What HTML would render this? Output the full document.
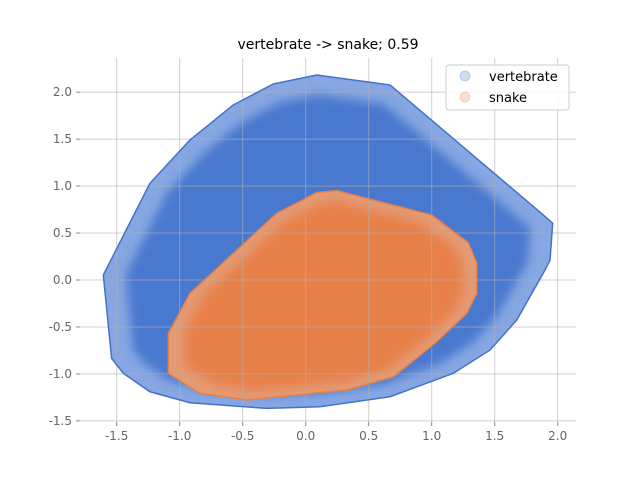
<!DOCTYPE html>
<html><head><meta charset="utf-8"><style>
body{margin:0;background:#fff;font-family:"Liberation Sans",sans-serif}
svg text{font-family:"DejaVu Sans","Liberation Sans",sans-serif}
</style></head><body>
<svg id="c" width="640" height="480">
<defs><filter id="bl" x="-20%" y="-20%" width="140%" height="140%"><feGaussianBlur stdDeviation="5"/></filter></defs>
</svg>
<script>
const xTicks=[-1.5,-1.0,-0.5,0.0,0.5,1.0,1.5,2.0];
const yTicks=[-1.5,-1.0,-0.5,0.0,0.5,1.0,1.5,2.0];
const vertX=[-1.606,-1.540,-1.447,-1.236,-0.918,-0.310,0.113,0.669,1.171,1.463,1.675,1.899,1.939,1.960,1.886,0.669,0.087,-0.257,-0.575,-0.918,-1.236];
const vertY=[0.053,-0.834,-0.994,-1.19,-1.307,-1.367,-1.349,-1.243,-0.994,-0.745,-0.426,0.106,0.213,0.604,0.692,2.077,2.183,2.087,1.864,1.491,1.030];
const snakeX=[-1.090,-1.090,-0.918,-0.230,0.087,0.246,1.0,1.290,1.357,1.357,1.278,1.040,0.696,0.325,-0.468,-0.839];
const snakeY=[-0.994,-0.568,-0.142,0.710,0.930,0.951,0.692,0.397,0.178,-0.142,-0.355,-0.657,-1.030,-1.171,-1.278,-1.207];
const X0=80,X1=576,Y0=58,Y1=422,xmin=-1.791,xmax=2.145,ymin=-1.512,ymax=2.364;
const sx=v=>X0+(v-xmin)/(xmax-xmin)*(X1-X0);
const sy=v=>Y1-(v-ymin)/(ymax-ymin)*(Y1-Y0);
const svg=document.getElementById('c');const NS='http://www.w3.org/2000/svg';
function mk(t,a,p){const e=document.createElementNS(NS,t);for(const k in a)e.setAttribute(k,a[k]);(p||svg).appendChild(e);return e;}
function hullFill(xs,ys,fillEdge,fillCore,name,shrink){
 const pts=xs.map((v,i)=>[sx(v),sy(ys[i])]);
 const cx=pts.reduce((a,p)=>a+p[0],0)/pts.length,cy=pts.reduce((a,p)=>a+p[1],0)/pts.length;
 const s=pts.map(p=>p.join(',')).join(' ');
 const inner=pts.map(p=>[cx+(p[0]-cx)*shrink,cy+(p[1]-cy)*shrink].join(',')).join(' ');
 const a=mk('polygon',{points:s,fill:fillEdge,stroke:'none'});
 
 const b=mk('polygon',{points:inner,fill:fillCore,stroke:'none',filter:'url(#bl)'});
 
 return s;
}
const vs=hullFill(vertX,vertY,'#86a7e2','#4878cf','vertebrate',0.9);
const ss=hullFill(snakeX,snakeY,'#e49a74','#e8804a','snake',0.9);
xTicks.forEach(t=>{const x=sx(t);
 const g=mk('line',{x1:x,x2:x,y1:Y0,y2:Y1,stroke:'#b0b0b0','stroke-opacity':0.6,'stroke-width':1});
 
 mk('line',{x1:x,x2:x,y1:Y1,y2:Y1+4,stroke:'#888'});
 const l=mk('text',{x:x,y:Y1+18,'text-anchor':'middle','font-size':12,fill:'#666'});l.textContent=t.toFixed(1);
 });
yTicks.forEach(t=>{const y=sy(t);
 const g=mk('line',{x1:X0,x2:X1,y1:y,y2:y,stroke:'#b0b0b0','stroke-opacity':0.6,'stroke-width':1});
 
 mk('line',{x1:X0-4,x2:X0,y1:y,y2:y,stroke:'#888'});
 const l=mk('text',{x:X0-8,y:y+4,'text-anchor':'end','font-size':12,fill:'#666'});l.textContent=t.toFixed(1);
 });
const h1=mk('polygon',{points:vs,fill:'none',stroke:'#4472c9','stroke-width':1.5});

const h2=mk('polygon',{points:ss,fill:'none',stroke:'#e8804a','stroke-width':1.5});

const t=mk('text',{x:328,y:49,'text-anchor':'middle','font-size':14,fill:'#000'});t.textContent='vertebrate -> snake; 0.59';

const lg=mk('rect',{x:446,y:65,width:123,height:45,rx:3,fill:'#fff','fill-opacity':0.85,stroke:'#ccc'});

[['vertebrate','#4878cf',76],['snake','#e8804a',97]].forEach(([n,c,y])=>{
 const d=mk('circle',{cx:465,cy:y,r:5,fill:c,'fill-opacity':0.25,stroke:c,'stroke-opacity':0.3});
 
 const l=mk('text',{x:489,y:y+5,'font-size':13,fill:'#000'});l.textContent=n;
 });
</script>
</body></html>
